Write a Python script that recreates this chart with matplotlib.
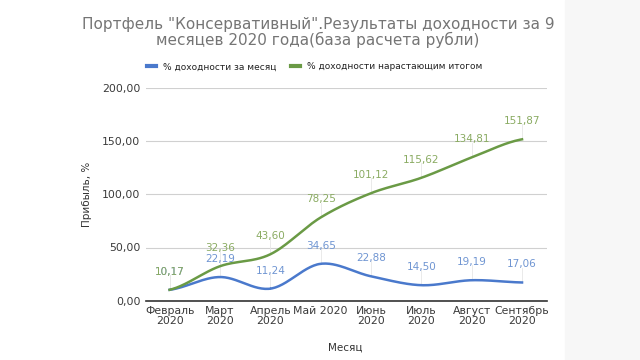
import matplotlib.pyplot as plt
import numpy as np
from matplotlib.lines import Line2D

months = ['Февраль\n2020', 'Март\n2020', 'Апрель\n2020', 'Май 2020', 'Июнь\n2020',
          'Июль\n2020', 'Август\n2020', 'Сентябрь\n2020']
monthly = [10.17, 22.19, 11.24, 34.65, 22.88, 14.50, 19.19, 17.06]
cumulative = [10.17, 32.36, 43.60, 78.25, 101.12, 115.62, 134.81, 151.87]

blue = '#4a79cc'
green = '#6a9a45'
blue_lbl = '#6f95d2'
green_lbl = '#8aab62'


def smooth(x, y, n=30):
    # catmull-rom curve through the points, just for drawing
    x = np.asarray(x, float)
    y = np.asarray(y, float)
    px = np.concatenate([[2 * x[0] - x[1]], x, [2 * x[-1] - x[-2]]])
    py = np.concatenate([[y[0]], y, [y[-1]]])
    xs, ys = [], []
    t = np.linspace(0, 1, n)
    for i in range(1, len(px) - 2):
        for p, out in ((px, xs), (py, ys)):
            p0, p1, p2, p3 = p[i - 1], p[i], p[i + 1], p[i + 2]
            out.extend(0.5 * (2 * p1 + (-p0 + p2) * t + (2 * p0 - 5 * p1 + 4 * p2 - p3) * t ** 2
                              + (-p0 + 3 * p1 - 3 * p2 + p3) * t ** 3))
    return xs, ys


fig = plt.figure(figsize=(6.4, 3.6), dpi=100)
fig.patches.append(plt.Rectangle((565 / 640, 0), 1, 1, transform=fig.transFigure,
                                 color='#f7f7f7', zorder=-1))
ax = fig.add_axes([0.228, 0.165, 0.627, 0.59])

x = np.arange(len(months))
for vals, col, lcol in ((monthly, blue, blue_lbl), (cumulative, green, green_lbl)):
    sx, sy = smooth(x, vals)
    ax.plot(sx, sy, color=col, lw=1.8, zorder=3)
    for xi, v in zip(x, vals):
        ax.plot([xi, xi], [v, v + 14], color='#e6e6e6', lw=0.6, zorder=1)
        ax.text(xi, v + 17, f'{v:.2f}'.replace('.', ','), ha='center', va='center',
                fontsize=7.5, color=lcol, zorder=4)

ax.set_xlim(-0.47, 7.5)
ax.set_ylim(0, 200)
ax.set_yticks([0, 50, 100, 150, 200])
ax.set_yticklabels(['0,00', '50,00', '100,00', '150,00', '200,00'])
ax.set_xticks(x)
ax.set_xticklabels(months, linespacing=0.95)
ax.tick_params(length=0, labelsize=7.8, colors='#3a3a3a', pad=4)
ax.grid(axis='y', color='#d0d0d0', lw=0.8)
ax.set_axisbelow(True)
for s in ['top', 'right', 'left']:
    ax.spines[s].set_visible(False)
ax.spines['bottom'].set_color('#333333')
ax.spines['bottom'].set_linewidth(1.2)
ax.spines['bottom'].set_zorder(5)

ax.set_ylabel('Прибыль, %', fontsize=7.5, color='#333333', labelpad=7)
fig.text(0.54, 0.035, 'Месяц', fontsize=7.5, color='#333333', ha='center', va='center')

fig.text(0.497, 0.91, 'Портфель "Консервативный".Результаты доходности за 9\nмесяцев 2020 года(база расчета рубли)',
         ha='center', va='center', fontsize=11, color='#757575', linespacing=1.0)

handles = [Line2D([], [], color=blue, lw=3), Line2D([], [], color=green, lw=3)]
fig.legend(handles, ['% доходности за месяц', '% доходности нарастающим итогом'],
           loc='center', bbox_to_anchor=(0.492, 0.814), ncol=2, frameon=False,
           fontsize=6.5, handlelength=1.0, columnspacing=1.6, handletextpad=0.8,
           labelcolor='#222222')

fig.savefig('out.png', dpi=100, facecolor='white')
